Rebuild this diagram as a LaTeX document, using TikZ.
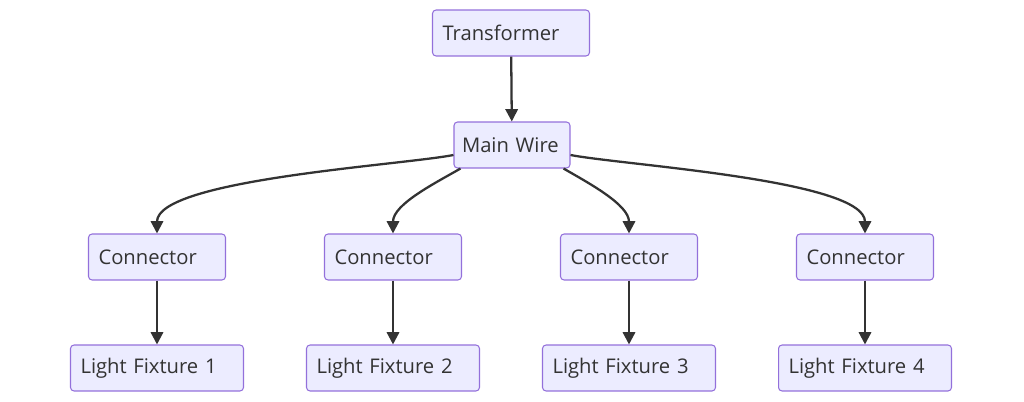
\documentclass[tikz,border=0pt]{standalone}
\usepackage{fontspec}
\setmainfont{Open Sans}
\usetikzlibrary{positioning,arrows.meta}
\definecolor{boxfill}{HTML}{ECECFF}
\definecolor{boxline}{HTML}{9370DB}
\definecolor{wire}{HTML}{333333}
\tikzset{
  box/.style={draw=boxline, fill=boxfill, rounded corners=2pt, line width=0.6pt,
    minimum height=0.92cm, inner xsep=0.2cm, align=left,
    font=\fontsize{11.5}{13}\selectfont, text=wire},
  feed/.style={draw=wire, line width=1.3pt, -{Triangle[length=7pt,width=7pt]}}
}
\begin{document}
\begin{tikzpicture}[x=0.02cm,y=-0.02cm]
				\useasboundingbox (0,0) rectangle (1024,402);
				% Nodes:
				\node[box, text width=2.74cm] (trafo) at (511,33) {Transformer};
				\node[box, text width=2.0cm, inner xsep=0.16cm] (mainwire) at (512,145) {Main~Wire};
				\foreach \i/\x in {1/157,2/393,3/629,4/865}{
				\node[box, text width=2.34cm] (conn\i) at (\x,257) {Connector};
				\node[box, text width=3.06cm] (light\i) at (\x,368) {Light Fixture \i};
				\draw[feed] (conn\i) -- (light\i);
				}
				% Wires:
				\draw[feed] (trafo) -- (mainwire);
				\draw[feed] ([yshift=-0.2cm]mainwire.west) to[out=191, in=90, looseness=0.45] (conn1.north);
				\draw[feed] ([yshift=-0.2cm]mainwire.east) to[out=-11, in=90, looseness=0.45] (conn4.north);
				\draw[feed] ([xshift=0.14cm]mainwire.south west) to[out=210, in=90, looseness=0.8] (conn2.north);
				\draw[feed] ([xshift=-0.14cm]mainwire.south east) to[out=-30, in=90, looseness=0.8] (conn3.north);
			\end{tikzpicture}
\end{document}
